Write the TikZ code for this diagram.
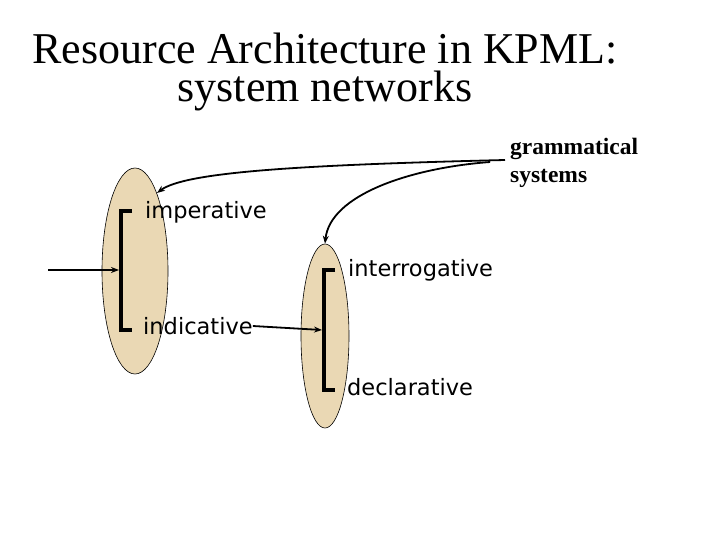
\documentclass[tikz,border=0pt]{standalone}
\usepackage{fontspec}
\setmainfont{Liberation Serif}
\newfontfamily\labfont{DejaVu Sans}
\usetikzlibrary{shapes.geometric,arrows.meta,calc}
\definecolor{beige}{RGB}{234,216,180}
\begin{document}
\begin{tikzpicture}[x=1pt,y=-1pt,
  sys/.style={ellipse,draw=black,line width=0.6pt,fill=beige,inner sep=0pt},
  brk/.style={line width=3.4pt},
  lab/.style={font=\labfont\fontsize{22.5}{26}\selectfont,anchor=west,inner sep=0pt},
  arr/.style={line width=1.8pt,-{Stealth[length=8pt,width=6pt]}}]
\useasboundingbox (0,0) rectangle (720,540);
\node[font=\fontsize{44}{38}\selectfont,align=center,inner sep=0pt] (title) at (325,72) {Resource Architecture in KPML:\\system networks};
\node[font=\bfseries\fontsize{23.5}{28}\selectfont,align=left,anchor=west,inner sep=0pt] (gs) at (510,163) {grammatical\\systems};
\node[sys,minimum width=66pt,minimum height=206pt] (e1) at (135,271) {};
\node[sys,minimum width=48pt,minimum height=184pt] (e2) at (325,336) {};
\coordinate (b1t) at (121,211);
\coordinate (b1b) at (121,330);
\coordinate (b1m) at (121,270);
\draw[brk] ($(b1t)+(11,0)$) -- (b1t) -- (b1b) -- ++(11,0);
\coordinate (b2t) at (324,270);
\coordinate (b2b) at (324,390);
\coordinate (b2m) at (324,330);
\draw[brk] ($(b2t)+(11,0)$) -- (b2t) -- (b2b) -- ++(11,0);
\node[lab] (imp) at (145,212) {imperative};
\node[lab] (ind) at (143,326) {indicative};
\node[lab] (int) at (348,270) {interrogative};
\node[lab] (dec) at (347,387) {declarative};
\coordinate (in) at (48,270);
\draw[arr] (in) -- ($(b1m)+(-2,0)$);
\draw[arr] (ind.east) -- ($(b2m)+(-2,0)$);
\coordinate (gsl) at (505,160);
\coordinate (gsm) at (490,162);
\coordinate (e1p) at (157,193);
\draw[arr] (gsl) .. controls (300,165) and (185,172) .. (e1p);
\draw[arr] (gsm) .. controls (410,168) and (330,195) .. (e2.north);
\end{tikzpicture}
\end{document}
